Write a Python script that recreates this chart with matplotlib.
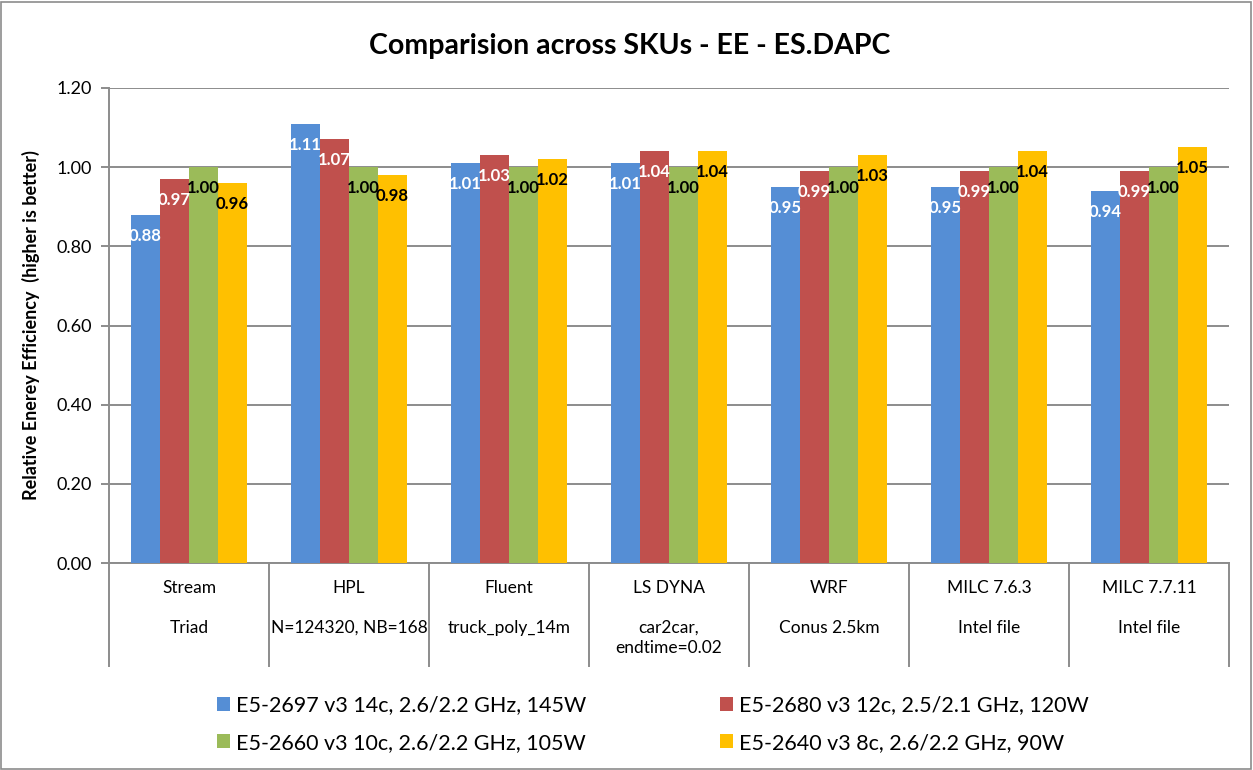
import matplotlib
matplotlib.use("Agg")
import matplotlib.pyplot as plt
from matplotlib.patches import Patch, Rectangle
from matplotlib.lines import Line2D
import matplotlib.transforms as mtransforms

plt.rcParams['font.family'] = ['Lato', 'DejaVu Sans']

cat_line1 = ["Stream", "HPL", "Fluent", "LS DYNA", "WRF", "MILC 7.6.3", "MILC 7.7.11"]
cat_line2 = ["Triad", "N=124320, NB=168", "truck_poly_14m", "car2car,\nendtime=0.02",
             "Conus 2.5km", "Intel file", "Intel file"]
series_names = ["E5-2697 v3 14c, 2.6/2.2 GHz, 145W",
                "E5-2680 v3 12c, 2.5/2.1 GHz, 120W",
                "E5-2660 v3 10c, 2.6/2.2 GHz, 105W",
                "E5-2640 v3 8c, 2.6/2.2 GHz, 90W"]
e5_2697 = [0.88, 1.11, 1.01, 1.01, 0.95, 0.95, 0.94]
e5_2680 = [0.97, 1.07, 1.03, 1.04, 0.99, 0.99, 0.99]
e5_2660 = [1.00, 1.00, 1.00, 1.00, 1.00, 1.00, 1.00]
e5_2640 = [0.96, 0.98, 1.02, 1.04, 1.03, 1.04, 1.05]
yticks = [0.0, 0.2, 0.4, 0.6, 0.8, 1.0, 1.2]

series = [e5_2697, e5_2680, e5_2660, e5_2640]
colors = ["#558ED5", "#C0504D", "#9BBB59", "#FFC000"]
label_colors = ["white", "white", "black", "black"]

W, H = 1253, 770
fig = plt.figure(figsize=(W / 100, H / 100), dpi=100)
ax = fig.add_axes([109 / W, (H - 563) / H, (1229 - 109) / W, (563 - 88) / H])

grid_c = "#8C8C8C"
bw = 29 / 160
x = list(range(len(cat_line1)))
for k, (vals, c, lc) in enumerate(zip(series, colors, label_colors)):
    xs = [i + (k - 1.5) * bw for i in x]
    ax.bar(xs, vals, width=bw, color=c, zorder=3)
    for xi, v in zip(xs, vals):
        ax.annotate(f"{v:.2f}", xy=(xi, v), xytext=(0, -21), textcoords="offset pixels",
                    ha="center", va="center", color=lc, fontsize=12,
                    fontweight="bold", zorder=4)

ax.set_xlim(-0.5, len(x) - 0.5)
ax.set_ylim(0, 1.2)
ax.set_yticks(yticks)
ax.set_yticklabels([f"{t:.2f}" for t in yticks], fontsize=13)
ax.yaxis.grid(True, color=grid_c, linewidth=1.4, zorder=0)
ax.set_axisbelow(True)
ax.set_xticks([])
for s in ["top", "right"]:
    ax.spines[s].set_visible(False)
for s in ["left", "bottom"]:
    ax.spines[s].set_color(grid_c)
    ax.spines[s].set_linewidth(1.4)
ax.tick_params(axis="y", length=6, width=1.4, color=grid_c, pad=6)

ax.set_ylabel("Relative Enerey Efficiency  (higher is better)", fontsize=13,
              fontweight="bold", labelpad=12)

# category labels
for i in x:
    ax.annotate(cat_line1[i], xy=(i, 0), xycoords=("data", "axes fraction"),
                xytext=(0, -25), textcoords="offset pixels", ha="center", va="center",
                fontsize=12.5)
    ax.annotate(cat_line2[i], xy=(i, 0), xycoords=("data", "axes fraction"),
                xytext=(0, -57), textcoords="offset pixels", ha="center", va="top",
                fontsize=12.5, linespacing=1.3)

# separators
trans = mtransforms.blended_transform_factory(ax.transData, fig.transFigure)
for s in range(len(x) + 1):
    fig.add_artist(Line2D([s - 0.5, s - 0.5], [(H - 563) / H, (H - 666) / H],
                          transform=trans, color=grid_c, lw=1.4))

fig.text(630 / W, (H - 46) / H, "Comparision across SKUs - EE - ES.DAPC",
         ha="center", va="center", fontsize=20.5, fontweight="bold")

order = [0, 2, 1, 3]
handles = [Patch(facecolor=colors[k], edgecolor="none") for k in order]
labels = [series_names[k] for k in order]
fig.legend(handles, labels, ncol=2, loc="center",
           bbox_to_anchor=(653 / W, (H - 724) / H), frameon=False, fontsize=15.5,
           handlelength=0.6, handleheight=0.6, handletextpad=0.3,
           columnspacing=6.2, labelspacing=0.8)

fig.add_artist(Rectangle((1 / W, 1 / H), (W - 3) / W, (H - 3) / H, transform=fig.transFigure,
                         fill=False, edgecolor="#8C8C8C", lw=1.2))

fig.savefig("out.png", dpi=100)
